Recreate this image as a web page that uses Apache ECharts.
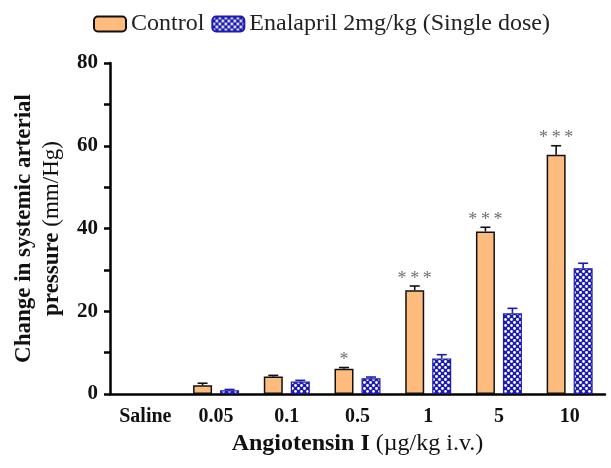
<!DOCTYPE html>
<html>
<head>
<meta charset="utf-8">
<script src="https://cdn.jsdelivr.net/npm/echarts@6/dist/echarts.min.js"></script>
<style>
html,body{margin:0;padding:0;background:#fff;}
#c{width:611px;height:468px;}
</style>
</head>
<body>
<div id="c"></div>
<script>
// ---- data ----
var categories = ['Saline', '0.05', '0.1', '0.5', '1', '5', '10'];
var controlValues = [null, 2.1, 4.2, 6.1, 25.1, 39.3, 57.8];
var controlErrors = [0, 0.5, 0.3, 0.3, 1.0, 1.0, 2.2];
var enalaprilValues = [null, 0.9, 3.0, 3.8, 8.6, 19.5, 30.4];
var enalaprilErrors = [0, 0.2, 0.3, 0.3, 0.9, 1.2, 1.2];
var significance = ['', '', '', '*', '***', '***', '***'];
var yTicks = [0, 20, 40, 60, 80];
var seriesNames = ['Control', 'Enalapril 2mg/kg (Single dose)'];

// ---- styles ----
var FONT = '"Liberation Serif", "Times New Roman", serif';
var BAR_W = 19, BAR_GAP = 8;
var ORANGE = '#FDBB7D';
var BLUE = '#1C1CB0';

function makePattern() {
  var c = document.createElement('canvas');
  c.width = 6; c.height = 6;
  var g = c.getContext('2d');
  g.fillStyle = BLUE; g.fillRect(0, 0, 6, 6);
  g.fillStyle = '#ffffff';
  g.beginPath(); g.arc(1.5, 1.5, 1.4, 0, Math.PI * 2); g.fill();
  g.beginPath(); g.arc(4.5, 4.5, 1.4, 0, Math.PI * 2); g.fill();
  return c;
}
var pattern = { image: makePattern(), repeat: 'repeat' };

function errData(vals, errs) {
  return vals.map(function (v, i) { return [i, v == null ? 0 : v, errs[i]]; });
}

function errRender(side, color, withStars) {
  return function (params, api) {
    var i = api.value(0), v = api.value(1), e = api.value(2);
    if (!v) return null;
    var off = side * (BAR_W / 2 + BAR_GAP / 2);
    var top = api.coord([i, v]);
    var up = api.coord([i, v + e]);
    var x = top[0] + off;
    var children = [];
    if (e > 0) {
      children.push({ type: 'line', shape: { x1: x, y1: top[1], x2: x, y2: up[1] }, style: { stroke: color, lineWidth: 1.6 } });
      children.push({ type: 'line', shape: { x1: x - 5, y1: up[1], x2: x + 5, y2: up[1] }, style: { stroke: color, lineWidth: 1.6 } });
    }
    var s = withStars ? significance[params.dataIndex] : '';
    if (s) {
      children.push({ type: 'text', style: { text: s.split('').join('\u2009'), x: x, y: up[1] + 2, textAlign: 'center', textVerticalAlign: 'bottom', font: '18px ' + FONT, fill: '#707070' } });
    }
    return { type: 'group', children: children };
  };
}

var chart = echarts.init(document.getElementById('c'));
chart.setOption({
  animation: false,
  backgroundColor: '#fff',
  legend: {
    top: 7, left: 88,
    itemWidth: 32, itemHeight: 15, itemGap: 7,
    textStyle: { fontFamily: FONT, fontSize: 24, color: '#222' },
    data: seriesNames
  },
  grid: { left: 110, right: 6, top: 63, bottom: 74 },
  xAxis: {
    type: 'category',
    data: categories,
    axisLine: { lineStyle: { color: '#000', width: 2.5 } },
    axisTick: { alignWithLabel: true, length: 6, lineStyle: { color: '#000', width: 2.5 } },
    axisLabel: { fontFamily: FONT, fontWeight: 'bold', fontSize: 20, color: '#111', margin: 13 },
    name: '{b|Angiotensin I }{n|(\u00b5g/kg i.v.)}',
    nameLocation: 'middle',
    nameGap: 36,
    nameTextStyle: {
      rich: {
        b: { fontFamily: FONT, fontWeight: 'bold', fontSize: 24, color: '#111' },
        n: { fontFamily: FONT, fontSize: 24, color: '#111' }
      }
    }
  },
  yAxis: {
    type: 'value',
    min: 0, max: 80, interval: 10,
    splitLine: { show: false },
    axisLine: { show: true, lineStyle: { color: '#000', width: 2.5 } },
    axisTick: { show: true, length: 6, lineStyle: { color: '#000', width: 2.5 } },
    axisLabel: {
      fontFamily: FONT, fontWeight: 'bold', fontSize: 21, color: '#111', margin: 12,
      formatter: function (v) { return yTicks.indexOf(v) >= 0 ? String(v) : ''; }
    },
    name: '{b|Change in systemic arterial}\n{b|pressure }{n|(mm/Hg)}',
    nameLocation: 'middle',
    nameRotate: 90,
    nameGap: 44,
    nameTextStyle: {
      lineHeight: 28,
      rich: {
        b: { fontFamily: FONT, fontWeight: 'bold', fontSize: 23, color: '#111', lineHeight: 28 },
        n: { fontFamily: FONT, fontSize: 23, color: '#111', lineHeight: 28 }
      }
    }
  },
  series: [
    {
      name: seriesNames[0], type: 'bar', data: controlValues,
      barWidth: BAR_W, barGap: (BAR_GAP / BAR_W * 100) + '%',
      itemStyle: { color: ORANGE, borderColor: '#111', borderWidth: 1.5 }
    },
    {
      name: seriesNames[1], type: 'bar', data: enalaprilValues,
      barWidth: BAR_W,
      itemStyle: { color: pattern, borderColor: BLUE, borderWidth: 1.2 }
    },
    {
      type: 'custom', data: errData(controlValues, controlErrors),
      renderItem: errRender(-1, '#111', true), z: 5, silent: true,
      encode: { x: 0, y: 1 }
    },
    {
      type: 'custom', data: errData(enalaprilValues, enalaprilErrors),
      renderItem: errRender(1, BLUE, false), z: 5, silent: true,
      encode: { x: 0, y: 1 }
    }
  ]
});
</script>
</body>
</html>
